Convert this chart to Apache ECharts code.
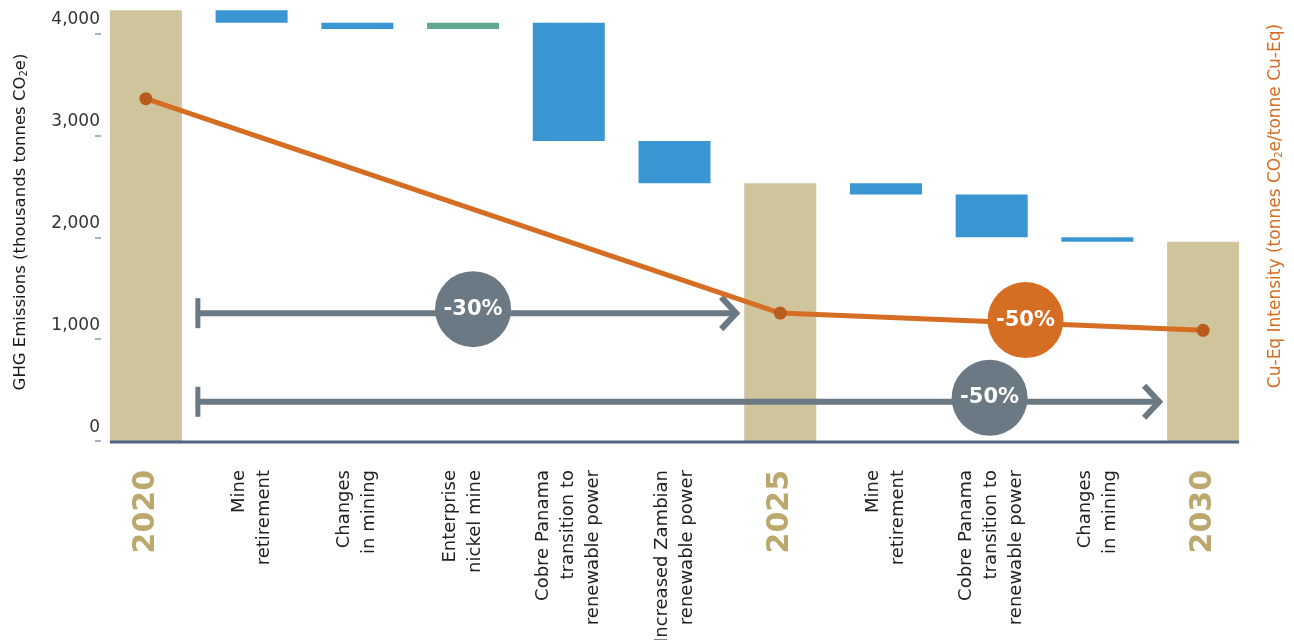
<!DOCTYPE html>
<html style="height: 100%">
<head>
  <meta charset="utf-8">
</head>
<body style="height: 100%; margin: 0">
  <div id="container" style="width: 100%; height: 100%"></div>
  <script src="https://cdn.jsdelivr.net/npm/echarts@6/dist/echarts.min.js"></script>
  <script>
    // categories along the x axis
    const categories = [
      '2020', 'Mine\nretirement', 'Changes\nin mining', 'Enterprise\nnickel mine',
      'Cobre Panama\ntransition to\nrenewable power', 'Increased Zambian\nrenewable power',
      '2025', 'Mine\nretirement', 'Cobre Panama\ntransition to\nrenewable power',
      'Changes\nin mining', '2030'
    ];
    // totals (thousand t CO2e) at the year columns, null elsewhere
    const totals = [4230, null, null, null, null, null, 2530, null, null, null, 1955];
    // step changes between the totals
    const steps = [null, -125, -60, 60, -1160, -415, null, -110, -420, -45, null];
    // Cu-Eq intensity (right axis)
    const intensity = [3.97, null, null, null, null, null, 2.11, null, null, null, 1.96];

    // annotation arrows: from/to category index, height in left axis units
    const arrows = [
      { from: 0, to: 6, value: 1255, label: '-30%', at: 0.513 },
      { from: 0, to: 10, value: 385, label: '-50%', at: 0.824 }
    ];
    const lineBadge = { from: 6, to: 10, at: 0.58, label: '-50%' };

    const tan = '#cfc49c', blue = '#3a96d3', green = '#62a893';
    const grey = '#6a7984', orange = '#d56d22';
    const FONT = 'DejaVu Sans';

    // build waterfall base + visible bars
    let base = [], bars = [], running = 0;
    for (let i = 0; i < categories.length; i++) {
      if (totals[i] != null) {
        running = totals[i];
        base.push(0);
        bars.push({ value: totals[i], itemStyle: { color: tan } });
      } else {
        const d = steps[i];
        const low = d < 0 ? running + d : running;
        base.push(low);
        bars.push({ value: Math.abs(d), itemStyle: { color: d < 0 ? blue : green } });
        running += d;
      }
    }

    const isYear = v => /^\d{4}$/.test(v);

    var dom = document.getElementById('container');
    var myChart = echarts.init(dom, null, { renderer: 'canvas' });

    var option = {
      animation: false,
      textStyle: { fontFamily: FONT },
      grid: { left: 93, right: 38, top: 3, bottom: 199, outerBoundsMode: 'none', containLabel: false },
      xAxis: {
        type: 'category',
        data: categories,
        axisLine: { show: false },
        axisTick: { show: false },
        axisLabel: {
          interval: 0,
          rotate: 90,
          margin: 29,
          fontSize: 18,
          lineHeight: 25,
          color: '#222',
          fontFamily: FONT,
          formatter: v => isYear(v) ? '{yr|' + v + '}' : v,
          rich: {
            yr: { fontSize: 30, fontWeight: 'bold', color: '#bba86d', fontFamily: FONT }
          }
        }
      },
      yAxis: [
        {
          type: 'value',
          min: 0,
          max: 4300,
          offset: -2,
          name: 'GHG Emissions (thousands tonnes CO{sub|2}e)',
          nameLocation: 'middle',
          nameRotate: 90,
          nameGap: 66,
          nameTextStyle: {
            fontSize: 16.5, color: '#1a1a1a', fontFamily: FONT,
            rich: { sub: { fontSize: 10, verticalAlign: 'bottom', padding: [7, 0, 0, 0], color: '#1a1a1a' } }
          },
          axisLine: { show: false },
          splitLine: { show: false },
          axisTick: {
            show: true, inside: true, length: 6,
            customValues: [0, 1000, 2000, 3000, 4000],
            lineStyle: { color: '#8e9ba5', width: 1.5 }
          },
          axisLabel: {
            customValues: [0, 1000, 2000, 3000, 4000],
            margin: -5,
            fontSize: 17,
            color: '#333',
            verticalAlign: 'bottom',
            padding: [0, 0, 5, 0]
          }
        },
        {
          type: 'value',
          min: 1,
          max: 4.8,
          position: 'right',
          name: 'Cu-Eq Intensity (tonnes CO{sub|2}e/tonne Cu-Eq)',
          nameLocation: 'middle',
          nameRotate: 90,
          nameGap: 11,
          nameTextStyle: {
            fontSize: 17, color: orange, fontFamily: FONT,
            padding: [0, 0, 0, 32],
            rich: { sub: { fontSize: 10, verticalAlign: 'bottom', padding: [7, 0, 0, 0], color: orange } }
          },
          axisLine: { show: false },
          axisTick: { show: false },
          axisLabel: { show: false },
          splitLine: { show: false }
        }
      ],
      series: [
        {
          name: 'base',
          type: 'bar',
          stack: 'wf',
          barWidth: 72,
          itemStyle: { color: 'transparent' },
          data: base
        },
        {
          name: 'GHG',
          type: 'bar',
          stack: 'wf',
          barWidth: 72,
          data: bars
        },
        {
          name: 'Intensity',
          type: 'line',
          yAxisIndex: 1,
          connectNulls: true,
          symbol: 'circle',
          symbolSize: 13,
          lineStyle: { color: orange, width: 5 },
          itemStyle: { color: '#b85b1c' },
          z: 4,
          data: intensity
        }
      ]
    };

    myChart.setOption(option);

    // annotations placed from the chart's own scales
    function px(i, v, yi) {
      return myChart.convertToPixel({ xAxisIndex: 0, yAxisIndex: yi || 0 }, [i, v]);
    }
    const half = 36;
    let g = [];
    const zero = px(0, 0)[1];
    g.push({
      type: 'line', z: 5,
      shape: { x1: px(0, 0)[0] - half, y1: zero + 1, x2: px(categories.length - 1, 0)[0] + half, y2: zero + 1 },
      style: { stroke: '#4e6585', lineWidth: 3 }
    });
    arrows.forEach(a => {
      const y = px(0, a.value)[1];
      const x1 = px(a.from, 0)[0] + half + 14;
      const x2 = px(a.to, 0)[0] - half - 8;
      g.push({ type: 'line', z: 3, shape: { x1: x1, y1: y, x2: x2, y2: y }, style: { stroke: grey, lineWidth: 6 } });
      g.push({ type: 'line', z: 3, shape: { x1: x1 + 2, y1: y - 15, x2: x1 + 2, y2: y + 15 }, style: { stroke: grey, lineWidth: 5 } });
      g.push({
        type: 'polyline', z: 3,
        shape: { points: [[x2 - 15, y - 16], [x2, y], [x2 - 15, y + 16]] },
        style: { stroke: grey, lineWidth: 6, fill: null }
      });
      const cx = x1 + (x2 - x1) * a.at;
      g.push({ type: 'circle', z: 6, shape: { cx: cx, cy: y - 4, r: 38 }, style: { fill: grey } });
      g.push({
        type: 'text', z: 7,
        style: { text: a.label, x: cx, y: y - 4, align: 'center', verticalAlign: 'middle', fill: '#fff', font: 'bold 21px "' + FONT + '"' }
      });
    });
    (function () {
      const p1 = px(lineBadge.from, intensity[lineBadge.from], 1);
      const p2 = px(lineBadge.to, intensity[lineBadge.to], 1);
      const cx = p1[0] + (p2[0] - p1[0]) * lineBadge.at;
      const cy = p1[1] + (p2[1] - p1[1]) * lineBadge.at - 3;
      g.push({ type: 'circle', z: 6, shape: { cx: cx, cy: cy, r: 38 }, style: { fill: orange } });
      g.push({
        type: 'text', z: 7,
        style: { text: lineBadge.label, x: cx, y: cy, align: 'center', verticalAlign: 'middle', fill: '#fff', font: 'bold 21px "' + FONT + '"' }
      });
    })();
    myChart.setOption({ graphic: g });

    window.addEventListener('resize', myChart.resize);
  </script>
</body>
</html>
